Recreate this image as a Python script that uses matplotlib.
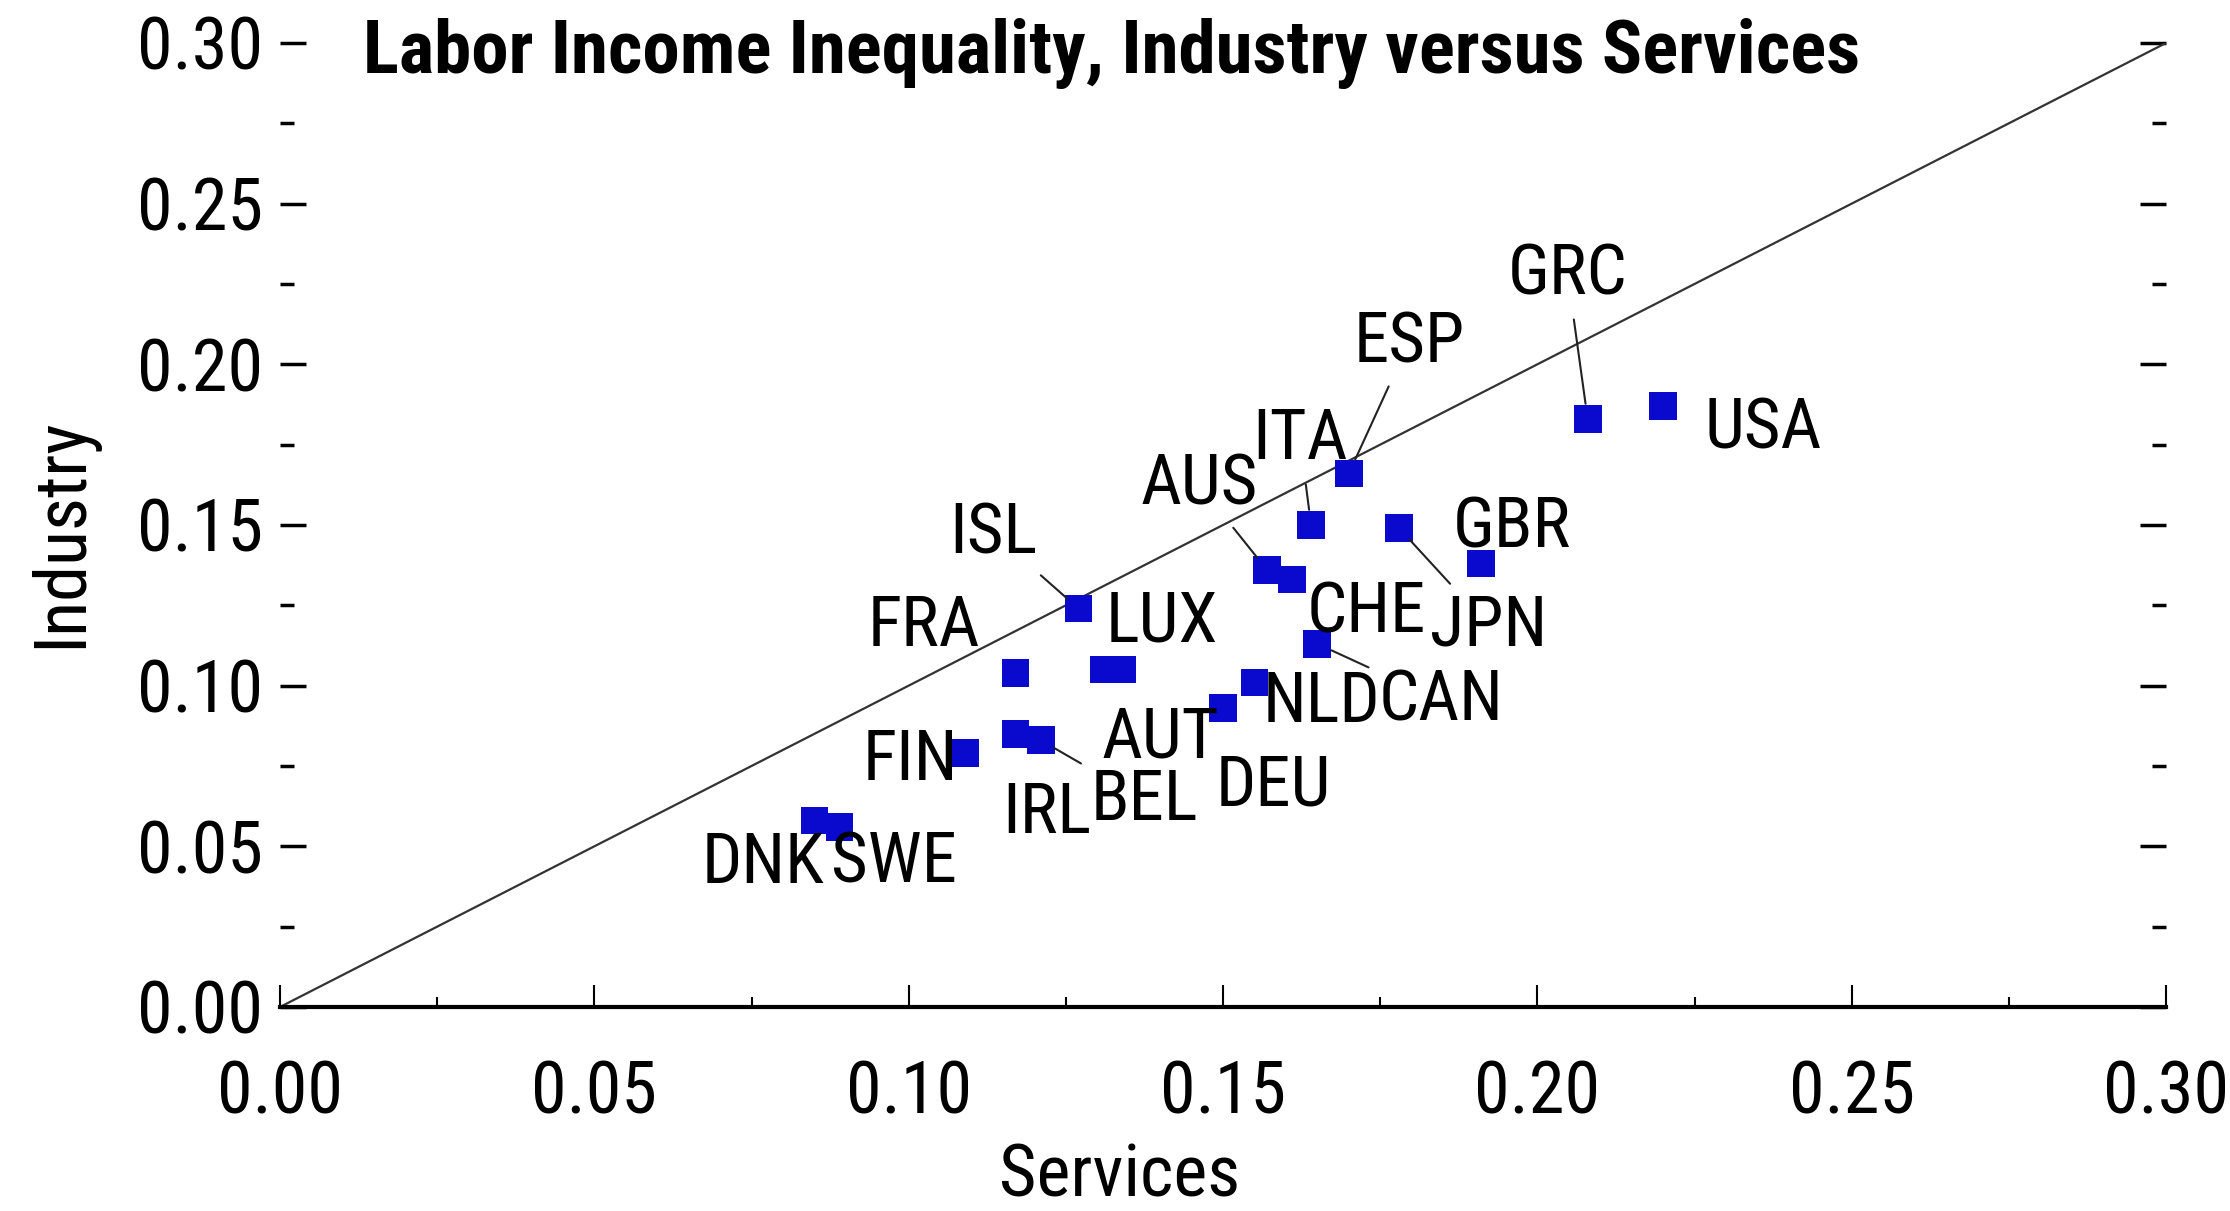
import matplotlib
matplotlib.use("Agg")
import matplotlib.pyplot as plt
from matplotlib.ticker import MultipleLocator

plt.rcParams['font.family'] = ['Roboto Condensed', 'DejaVu Sans']

# data: Services (x) vs Industry (y) labor income inequality
countries = ["DNK", "SWE", "FIN", "IRL", "BEL", "FRA", "LUX", "AUT", "ISL", "DEU",
             "NLD", "CAN", "CHE", "AUS", "ITA", "ESP", "JPN", "GBR", "GRC", "USA"]
services = [0.085, 0.089, 0.109, 0.117, 0.121, 0.117, 0.131, 0.134, 0.127, 0.150,
            0.155, 0.165, 0.161, 0.157, 0.164, 0.170, 0.178, 0.191, 0.208, 0.220]
industry = [0.058, 0.056, 0.079, 0.085, 0.083, 0.104, 0.105, 0.105, 0.124, 0.093,
            0.101, 0.113, 0.133, 0.136, 0.150, 0.166, 0.149, 0.138, 0.183, 0.187]

# label offsets (pixels) and whether a leader line is drawn
label_offsets = {
    "DNK": (-51, -43), "SWE": (54, -36), "FIN": (-55, -7), "IRL": (31, -80),
    "BEL": (104, -60), "FRA": (-92, 46), "LUX": (58, 48), "AUT": (38, -68),
    "ISL": (-85, 75), "DEU": (50, -78), "NLD": (67, -20), "CAN": (124, -57),
    "CHE": (74, -33), "AUS": (-68, 85), "ITA": (-11, 85), "ESP": (60, 131),
    "JPN": (90, -98), "GBR": (31, 36), "GRC": (-20, 144), "USA": (100, -23),
}
leaders = {"BEL", "ISL", "CAN", "AUS", "ITA", "ESP", "JPN", "GRC"}

lims = (0.0, 0.30)

fig = plt.figure(figsize=(22.3, 12.11), dpi=100)
ax = fig.add_axes([0.1256, 0.1685, 0.8457, 0.796])

ax.axline((lims[0], lims[0]), slope=1, color="#333333", lw=1.6, zorder=2)
ax.scatter(services, industry, marker="s", s=400, color="#0A0ACF",
           edgecolors="none", zorder=3)

for name, x, y in zip(countries, services, industry):
    dx, dy = label_offsets[name]
    arrow = None
    if name in leaders:
        arrow = dict(arrowstyle="-", color="#222222", lw=1.5, shrinkA=6, shrinkB=11)
    ax.annotate(name, (x, y), xytext=(dx, dy), textcoords="offset pixels",
                ha="center", va="center", fontsize=51, arrowprops=arrow, zorder=4)

ax.set_xlim(lims)
ax.set_ylim(lims)
for side in ("left", "top", "right"):
    ax.spines[side].set_visible(False)
ax.spines["bottom"].set_linewidth(3)

ax.xaxis.set_major_locator(MultipleLocator(0.05))
ax.xaxis.set_minor_locator(MultipleLocator(0.025))
ax.yaxis.set_major_locator(MultipleLocator(0.05))
ax.yaxis.set_minor_locator(MultipleLocator(0.025))
ax.xaxis.set_major_formatter(lambda v, p: f"{v:.2f}")
ax.yaxis.set_major_formatter(lambda v, p: f"{v:.2f}")

ax.tick_params(axis="x", which="both", direction="in", top=False, labelsize=52, pad=38)
ax.tick_params(axis="x", which="major", length=16, width=1.5)
ax.tick_params(axis="x", which="minor", length=7, width=1.5)
ax.tick_params(axis="y", which="both", direction="in", left=True, right=True,
               labelsize=52, pad=12)
ax.tick_params(axis="y", which="major", length=19, width=2.5)
ax.tick_params(axis="y", which="minor", length=10, width=2.5)

ax.set_xlabel("Services", fontsize=52)
ax.set_ylabel("Industry", fontsize=52)
ax.xaxis.set_label_coords(0.445, -0.141)
ax.yaxis.set_label_coords(-0.097, 0.492)

ax.text(0.044, 0.9886, "Labor Income Inequality, Industry versus Services",
        transform=ax.transAxes, ha="left", va="center", fontsize=54,
        fontweight="bold")

fig.savefig("out.png", dpi=100)
